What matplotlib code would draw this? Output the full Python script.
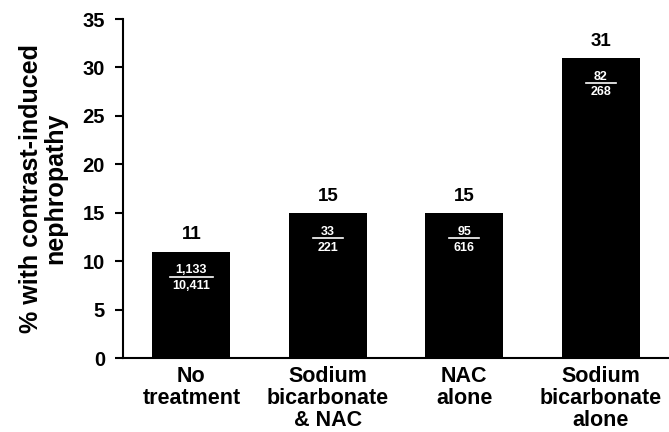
import matplotlib
matplotlib.use('Agg')
from matplotlib import pyplot as plt

categories = ['No\ntreatment', 'Sodium\nbicarbonate\n& NAC', 'NAC\nalone', 'Sodium\nbicarbonate\nalone']
percent = [11, 15, 15, 31]
numerators = ['1,133', '33', '95', '82']
denominators = ['10,411', '221', '616', '268']

plt.rcParams['font.family'] = ['Liberation Sans', 'DejaVu Sans']
plt.rcParams['font.weight'] = 'bold'

fig = plt.figure(figsize=(6.69, 4.32), dpi=100)
ax = fig.add_axes([0.184, 0.171, 0.816, 0.785])

x = list(range(len(categories)))
ax.bar(x, percent, width=0.57, color='black')

# value on top, count fraction in white inside the bar
for i, v in enumerate(percent):
    ax.annotate(str(v), (i, v), xytext=(0, 12), textcoords='offset points',
                ha='center', va='center', fontsize=13.5, fontweight='bold')
    ax.annotate(numerators[i], (i, v), xytext=(0, -13.5), textcoords='offset points',
                ha='center', va='center', fontsize=9, fontweight='bold', color='white')
    ax.annotate(denominators[i], (i, v), xytext=(0, -25), textcoords='offset points',
                ha='center', va='center', fontsize=9, fontweight='bold', color='white')
    w = max(len(numerators[i]), len(denominators[i]))
    half = 0.0157 * w + 0.063
    ax.plot([i - half, i + half], [v - 25 / 9.69, v - 25 / 9.69], color='white', lw=1.2)

ax.set_xlim(-0.5, 3.5)
ax.set_ylim(0, 35)
ax.set_yticks(range(0, 36, 5))
ax.set_xticks(x)
ax.set_xticklabels(categories, fontsize=15.5, fontweight='bold', linespacing=1.05)
ax.tick_params(axis='x', length=0, pad=6)
ax.tick_params(axis='y', length=6, width=1.5, labelsize=14.5, pad=7)
for lab in ax.get_yticklabels():
    lab.set_fontweight('bold')

ax.spines['top'].set_visible(False)
ax.spines['right'].set_visible(False)
ax.spines['left'].set_linewidth(1.5)
ax.spines['bottom'].set_linewidth(1.5)

ax.set_ylabel('% with contrast-induced\nnephropathy', fontsize=18, fontweight='bold', labelpad=11, linespacing=1.0)

fig.savefig('out.png', dpi=100)
